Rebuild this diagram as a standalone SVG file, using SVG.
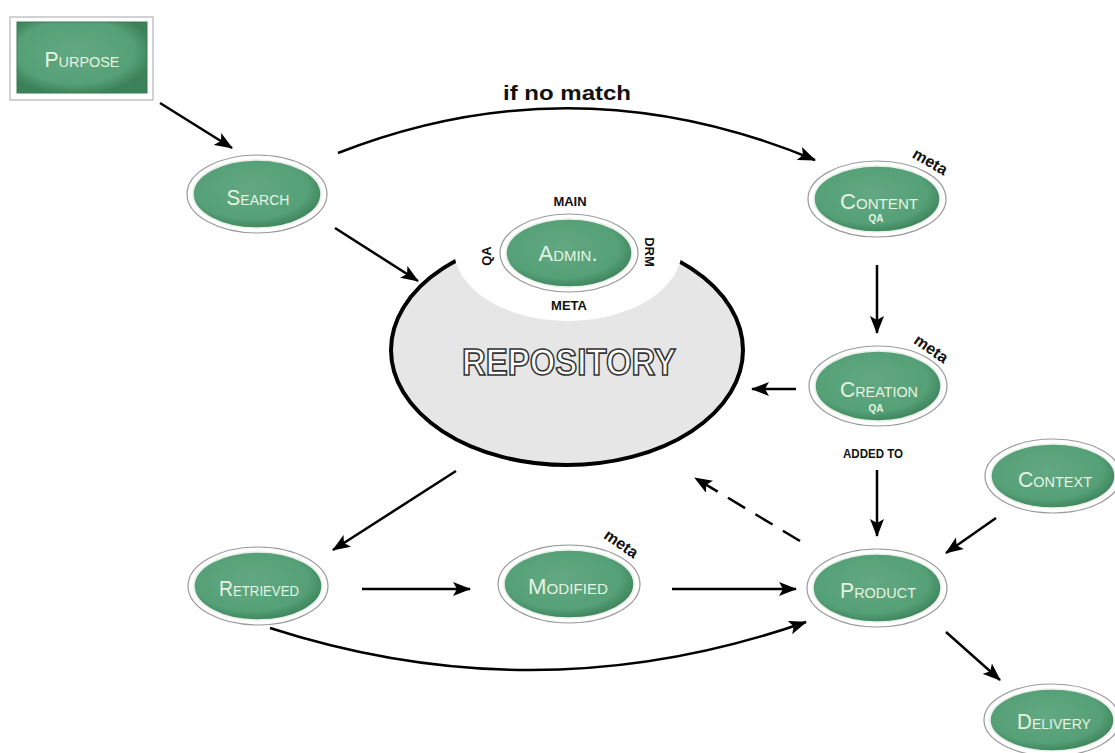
<svg xmlns="http://www.w3.org/2000/svg" width="1115" height="753" viewBox="0 0 1115 753">
<style>
  .ring { fill: #ffffff; stroke: #9a9a9a; stroke-width: 1.2; }
  .node { fill: url(#g); stroke: #e8efe8; stroke-width: 1.5; }
  .lbl { font-family: "Liberation Sans", Arial, sans-serif; font-variant: small-caps; font-size: 22px; fill: #e6f4e2; text-anchor: middle; }
  .sub { font-family: "Liberation Sans", Arial, sans-serif; font-size: 10px; font-weight: bold; fill: #e6f4e2; text-anchor: middle; }
  .meta { font-family: "Liberation Sans", Arial, sans-serif; font-size: 16px; font-weight: bold; fill: #111; text-anchor: middle; }
  .cap { font-family: "Liberation Sans", Arial, sans-serif; font-size: 13px; font-weight: bold; fill: #111; text-anchor: middle; }
  .conn { fill: none; stroke: #000; stroke-width: 2.5; marker-end: url(#ah); }
</style>
<defs>
  <radialGradient id="g" cx="0.45" cy="0.42" r="0.6">
    <stop offset="0" stop-color="#62a882"/>
    <stop offset="0.75" stop-color="#55a077"/>
    <stop offset="1" stop-color="#3c8259"/>
  </radialGradient>
  <marker id="ah" markerWidth="18" markerHeight="14" refX="17" refY="7" orient="auto" markerUnits="userSpaceOnUse">
    <path d="M0,0 L18,7 L0,14 L4,7 z" fill="#000"/>
  </marker>
</defs>
<rect width="1115" height="753" fill="#ffffff"/>

<g id="repository">
  <ellipse cx="567" cy="350" rx="176" ry="115" fill="#e6e6e6" stroke="#000" stroke-width="4"/>
  <ellipse cx="568" cy="249" rx="114" ry="72" fill="#ffffff"/>
  <text x="569" y="375" font-family="Liberation Sans, Arial, sans-serif" font-size="36" font-weight="bold" fill="#ffffff" stroke="#333" stroke-width="1.6" text-anchor="middle" textLength="214" lengthAdjust="spacingAndGlyphs">REPOSITORY</text>
</g>

<g id="admin">
  <ellipse class="ring" cx="569" cy="253" rx="69" ry="39"/>
  <ellipse class="node" cx="569" cy="253" rx="63" ry="34"/>
  <text class="lbl" x="568" y="261" textLength="59" lengthAdjust="spacingAndGlyphs">Admin.</text>
  <text class="cap" x="570" y="206">MAIN</text>
  <text class="cap" x="569" y="310">META</text>
  <text class="cap" transform="translate(649,252) rotate(90)" y="4">DRM</text>
  <text class="cap" transform="translate(487,256) rotate(-90)" y="4">QA</text>
</g>

<g id="purpose">
  <rect x="10" y="17" width="143" height="83" fill="#ffffff" stroke="#b5b5b5" stroke-width="1.2"/>
  <rect x="17" y="22" width="130" height="71" fill="url(#g)" stroke="#3a7a55" stroke-width="1"/>
  <text class="lbl" x="82" y="67" textLength="75" lengthAdjust="spacingAndGlyphs">Purpose</text>
</g>

<g id="search">
  <ellipse class="ring" cx="257" cy="194" rx="70" ry="39"/>
  <ellipse class="node" cx="257" cy="194" rx="64" ry="34"/>
  <text class="lbl" x="258" y="205" textLength="63" lengthAdjust="spacingAndGlyphs">Search</text>
</g>

<g id="content">
  <ellipse class="ring" cx="877" cy="199" rx="69" ry="38"/>
  <ellipse class="node" cx="877" cy="199" rx="63" ry="33"/>
  <text class="lbl" x="879" y="209" textLength="78" lengthAdjust="spacingAndGlyphs">Content</text>
  <text class="sub" x="876" y="222">QA</text>
  <text class="meta" transform="translate(930,162) rotate(30)" y="5">meta</text>
</g>

<g id="creation">
  <ellipse class="ring" cx="878" cy="386" rx="69" ry="40"/>
  <ellipse class="node" cx="878" cy="386" rx="63" ry="35"/>
  <text class="lbl" x="879" y="397" textLength="78" lengthAdjust="spacingAndGlyphs">Creation</text>
  <text class="sub" x="876" y="412">QA</text>
  <text class="meta" transform="translate(931,349) rotate(35)" y="5">meta</text>
  <text class="cap" x="873" y="458" textLength="60" lengthAdjust="spacingAndGlyphs">ADDED TO</text>
</g>

<g id="context">
  <ellipse class="ring" cx="1053" cy="476" rx="68" ry="37"/>
  <ellipse class="node" cx="1053" cy="476" rx="62" ry="32"/>
  <text class="lbl" x="1055" y="487" textLength="74" lengthAdjust="spacingAndGlyphs">Context</text>
</g>

<g id="retrieved">
  <ellipse class="ring" cx="258" cy="586" rx="70" ry="39"/>
  <ellipse class="node" cx="258" cy="586" rx="64" ry="34"/>
  <text class="lbl" x="259" y="596" textLength="80" lengthAdjust="spacingAndGlyphs">Retrieved</text>
</g>

<g id="modified">
  <ellipse class="ring" cx="569" cy="584" rx="71" ry="39"/>
  <ellipse class="node" cx="569" cy="584" rx="65" ry="34"/>
  <text class="lbl" x="568" y="594" textLength="80" lengthAdjust="spacingAndGlyphs">Modified</text>
  <text class="meta" transform="translate(621,544) rotate(35)" y="5">meta</text>
</g>

<g id="product">
  <ellipse class="ring" cx="877" cy="588" rx="70" ry="39"/>
  <ellipse class="node" cx="877" cy="588" rx="64" ry="34"/>
  <text class="lbl" x="878" y="598" textLength="76" lengthAdjust="spacingAndGlyphs">Product</text>
</g>

<g id="delivery">
  <ellipse class="ring" cx="1052" cy="720" rx="68" ry="36"/>
  <ellipse class="node" cx="1052" cy="720" rx="62" ry="31"/>
  <text class="lbl" x="1054" y="729" textLength="74" lengthAdjust="spacingAndGlyphs">Delivery</text>
</g>

<g id="connectors">
  <path class="conn" d="M160,103 L232,148"/>
  <path class="conn" d="M338,153 Q575,60 815,160"/>
  <text x="567" y="100" font-family="Liberation Sans, Arial, sans-serif" font-size="21" font-weight="bold" fill="#111" text-anchor="middle" textLength="128" lengthAdjust="spacingAndGlyphs">if no match</text>
  <path class="conn" d="M335,228 L418,281"/>
  <path class="conn" d="M877,265 L877,333"/>
  <path class="conn" d="M796,389 L752,389"/>
  <path class="conn" d="M877,470 L877,536"/>
  <path class="conn" d="M800,541 L695,478" stroke-dasharray="20,12"/>
  <path class="conn" d="M996,518 L946,553"/>
  <path class="conn" d="M456,471 L333,550"/>
  <path class="conn" d="M362,589 L470,589"/>
  <path class="conn" d="M672,589 L796,589"/>
  <path class="conn" d="M270,628 Q540,715 806,622"/>
  <path class="conn" d="M946,632 L1000,680"/>
</g>
</svg>
